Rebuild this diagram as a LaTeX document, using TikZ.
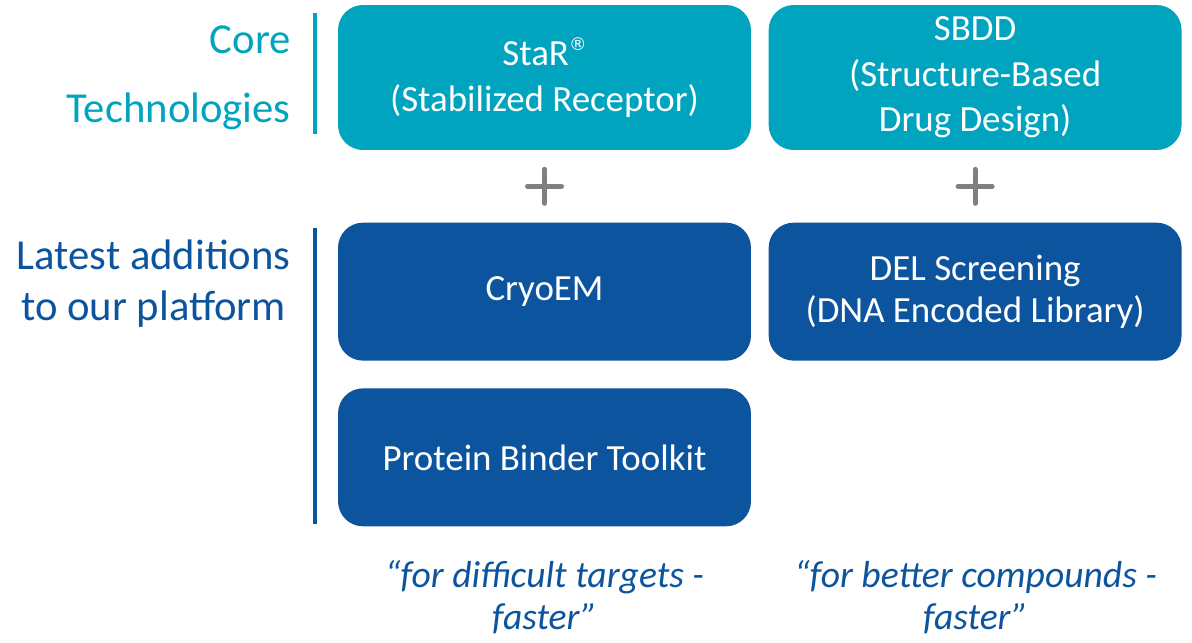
\documentclass[tikz,border=0pt]{standalone}
\usepackage{fontspec}
\setmainfont{Carlito}
\newfontfamily\regfont{DejaVu Sans}
\usepackage{tikz}
\usetikzlibrary{positioning,calc}
\definecolor{coreteal}{RGB}{0,164,191}
\definecolor{addblue}{RGB}{12,84,158}
\definecolor{plusgray}{RGB}{128,128,128}
\newcommand{\regmark}{\raisebox{0.42em}{\regfont\fontsize{10}{10}\selectfont ®}}

\begin{document}
\begin{tikzpicture}[x=0.02cm, y=-0.02cm, node distance=0.34cm,
  every node/.style={align=center, inner sep=0pt},
  tbox/.style={rounded corners=0.5cm, minimum width=8.26cm, text=white, font=\fontsize{21}{25.8}\selectfont},
  core/.style={tbox, fill=coreteal, minimum height=2.9cm},
  addn/.style={tbox, fill=addblue, minimum height=2.76cm},
  sidelabel/.style={anchor=east, font=\fontsize{24.3}{29}\selectfont},
  quote/.style={text=addblue, font=\fontsize{21.4}{24}\selectfont\itshape},
  plus/.style={draw=plusgray, line width=0.1cm, line cap=round}]
  \useasboundingbox (0,0) rectangle (1192,642);
  \node[core] (star) at (544.5,77.5) {StaR\regmark\\(Stabilized Receptor)};
  \node[core, right=of star] (sbdd) {SBDD\\(Structure-Based\\Drug Design)};
  \node[addn, below=1.44cm of star] (cryo) {\raisebox{-2pt}{CryoEM}};
  \node[addn, below=1.44cm of sbdd] (del) {\raisebox{-2pt}{DEL Screening}\\(DNA Encoded Library)};
  \node[addn, below=0.54cm of cryo] (binder) {Protein Binder Toolkit};
  % side labels
  \node[sidelabel, text=coreteal] (core1) at (291,40) {Core};
  \node[sidelabel, text=coreteal] (core2) at (291,111) {Technologies};
  \node[sidelabel, text=addblue] (latest) at (291,284) {Latest additions\\to our platform};
  \draw[coreteal, line width=0.08cm] (315,13) coordinate (ct) -- (315,134) coordinate (cb);
  \draw[addblue, line width=0.08cm] (315,228) coordinate (at) -- (315,524) coordinate (ab);
  % plus signs
  \coordinate (p1) at ($(star.south)!0.5!(cryo.north)$);
  \coordinate (p2) at ($(sbdd.south)!0.5!(del.north)$);
  \foreach \p in {p1,p2} {
    \draw[plus] ($(\p)+(-17,0)$) -- ($(\p)+(17,0)$);
    \draw[plus] ($(\p)+(0,-17)$) -- ($(\p)+(0,17)$);
  }
  \node[quote] (q1) at (544.5,597) {“for difficult targets -\\faster”};
  \node[quote] (q2) at (975.5,597) {“for better compounds -\\faster”};
\end{tikzpicture}
\end{document}
